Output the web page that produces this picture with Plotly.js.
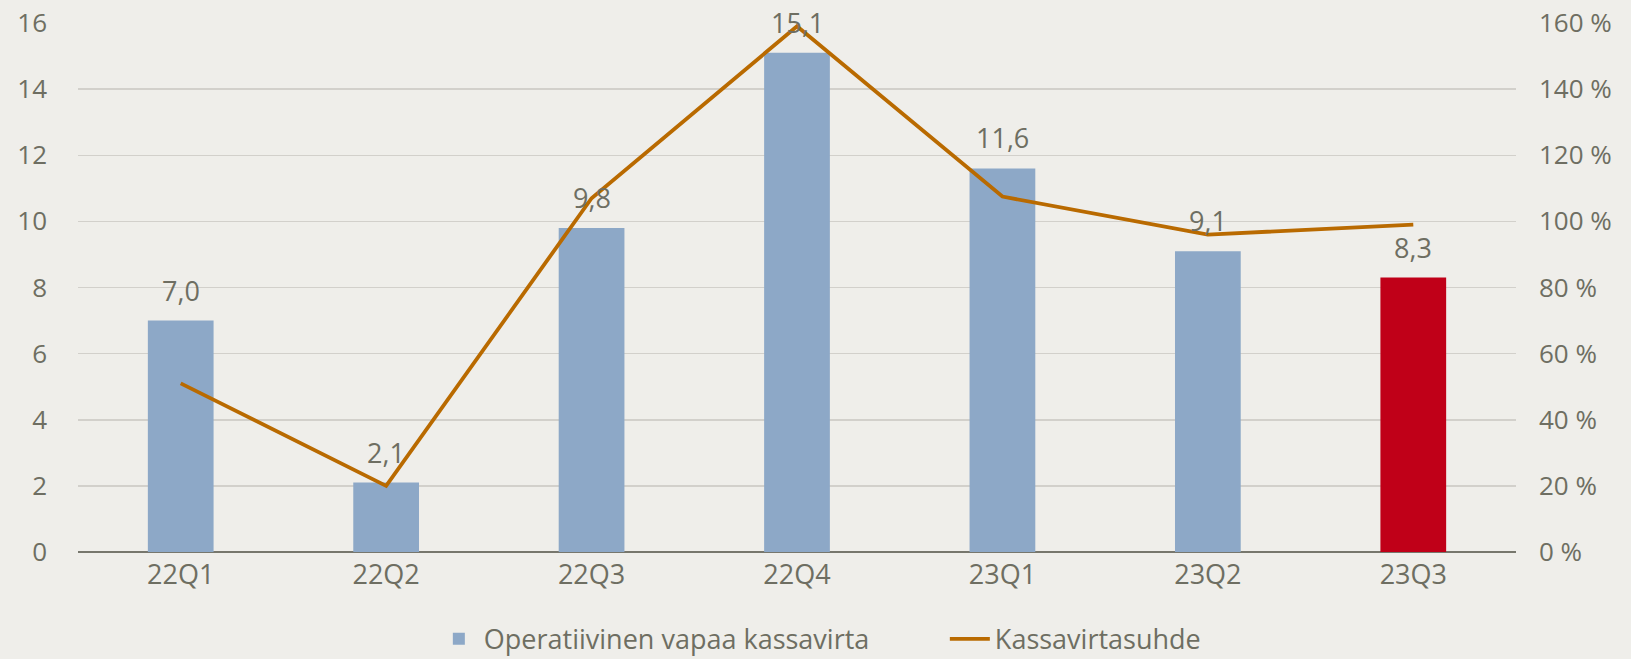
<!DOCTYPE html>
<html>
<head>
<meta charset="utf-8">
<script src="https://cdn.plot.ly/plotly-3.0.1.min.js"></script>
<style>
html,body{margin:0;padding:0;background:#EFEEEA;}
#chart{width:1631px;height:659px;}
</style>
</head>
<body>
<div id="chart"></div>
<script>
const categories = ['22Q1','22Q2','22Q3','22Q4','23Q1','23Q2','23Q3'];
const cashFlow = [7.0, 2.1, 9.8, 15.1, 11.6, 9.1, 8.3];
const cashRatio = [51, 20, 107, 159, 107.5, 96, 99];
const barColors = ['#8DA8C7','#8DA8C7','#8DA8C7','#8DA8C7','#8DA8C7','#8DA8C7','#C00018'];
const leftTicks = [0,2,4,6,8,10,12,14,16];
const rightTicks = [0,20,40,60,80,100,120,140,160];

const textColor = '#6E6E62';
const font = 'Open Sans, sans-serif';

const traces = [
  {
    type: 'bar',
    name: 'Operatiivinen vapaa kassavirta',
    x: categories,
    y: cashFlow,
    marker: {color: barColors, line: {width: 0}},
    width: 0.32,
    hoverinfo: 'skip'
  },
  {
    type: 'scatter',
    mode: 'lines',
    name: 'Kassavirtasuhde',
    x: categories,
    y: cashRatio,
    yaxis: 'y2',
    line: {color: '#B96A00', width: 3.8},
    hoverinfo: 'skip'
  }
];

const labelAnnotations = categories.map((c, i) => ({
  x: c,
  y: cashFlow[i],
  xref: 'x',
  yref: 'y',
  text: cashFlow[i].toFixed(1).replace('.', ','),
  showarrow: false,
  yanchor: 'bottom',
  yshift: 10,
  font: {family: font, size: 27, color: textColor}
}));

const layout = {
  width: 1631,
  height: 659,
  paper_bgcolor: '#EFEEEA',
  plot_bgcolor: '#EFEEEA',
  separators: ', ',
  margin: {l: 78, r: 115, t: 23, b: 107},
  font: {family: font, color: textColor, size: 27},
  showlegend: true,
  xaxis: {
    type: 'category',
    tickfont: {family: font, size: 27, color: textColor},
    showgrid: false,
    showline: false,
    ticks: '',
    ticklabelstandoff: 4
  },
  yaxis: {
    range: [0, 16],
    tickvals: leftTicks,
    ticktext: leftTicks.map(String),
    showgrid: true,
    gridcolor: '#D2D0CB',
    gridwidth: 1.5,
    zeroline: true,
    zerolinecolor: '#77776D',
    zerolinewidth: 2,
    showline: false,
    ticks: '',
    tickfont: {family: font, size: 26, color: textColor},
    ticklabelstandoff: 30
  },
  yaxis2: {
    overlaying: 'y',
    side: 'right',
    range: [0, 160],
    tickvals: rightTicks,
    ticktext: rightTicks.map(v => v + ' %'),
    showgrid: false,
    zeroline: false,
    showline: false,
    ticks: '',
    tickfont: {family: font, size: 26, color: textColor},
    ticklabelstandoff: 22
  },
  annotations: labelAnnotations,
  legend: {
    orientation: 'h',
    x: 0.266,
    xanchor: 'left',
    xref: 'container',
    yref: 'container',
    y: 0.03,
    yanchor: 'middle',
    entrywidth: 456,
    entrywidthmode: 'pixels',
    font: {family: font, size: 27, color: textColor},
    itemwidth: 40,
    bgcolor: 'rgba(0,0,0,0)'
  },
  hovermode: false
};

Plotly.newPlot('chart', traces, layout, {displayModeBar: false, staticPlot: true});
</script>
</body>
</html>
